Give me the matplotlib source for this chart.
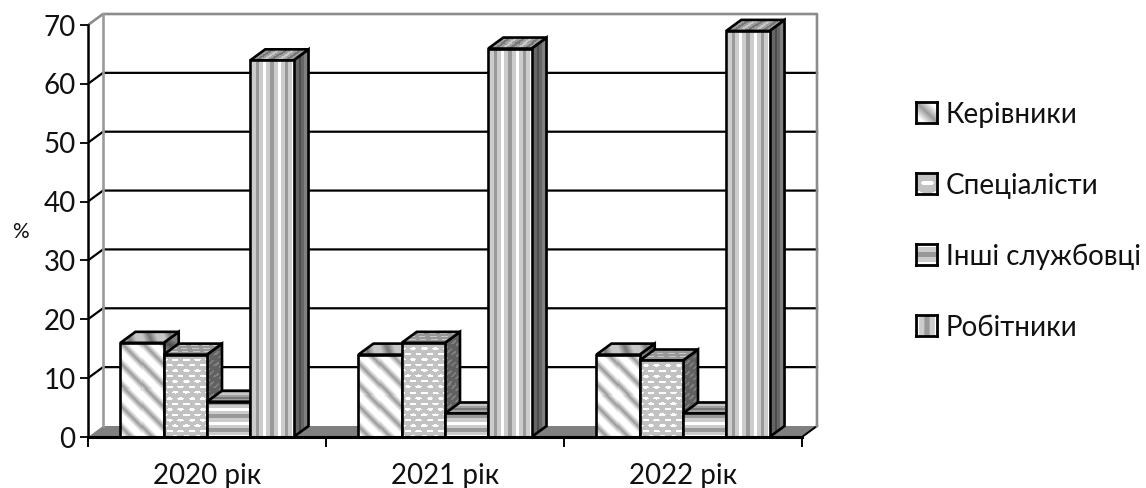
import matplotlib
matplotlib.use('Agg')
import matplotlib.pyplot as plt
from matplotlib.patches import Polygon
import numpy as np

years = ['2020 рік', '2021 рік', '2022 рік']
names = ['Керівники', 'Спеціалісти', 'Інші службовці', 'Робітники']
kerivnyky = [16, 14, 14]
spetsialisty = [14, 16, 13]
inshi = [6, 4, 4]
robitnyky = [64, 66, 69]
yticks = [0, 10, 20, 30, 40, 50, 60, 70]

plt.rcParams['font.family'] = ['Lato', 'Open Sans', 'DejaVu Sans']

# scale of the plot box in pixels per data unit
PX_X = 238.0
PX_Y = 412 / 70
DX = 15 / PX_X
DY = 11 / PX_Y
BAR_W = 1 / 5.5
LW = 1.9


def stripe(phase, low, share, steps=0):
    t = np.abs(phase % 1 - 0.5) * 2
    k = np.clip(t / share, 0, 1)
    if steps:
        k = np.round(k * steps) / steps
    return low + (1 - low) * k


def diag(u, v):
    return stripe((u + v) / 21.0, 0.6, 0.65)


def dots(u, v):
    i = np.round(v / 5.5)
    off = 5.5 * (i % 2)
    uc = np.round((u - off) / 11.0) * 11.0 + off
    d = ((u - uc) / 3.3) ** 2 + ((v - i * 5.5) / 1.3) ** 2
    return np.where(d < 1, 1.0, 0.76)


def horiz(u, v):
    return stripe(v / 13.5, 0.6, 1.0, steps=2)


def vert(u, v):
    return stripe(u / 14.5, 0.6, 1.0, steps=2)


patterns = [diag, dots, horiz, vert]
swatch_scale = [0.5, 0.5, 0.64, 0.69]


def face(ax, pattern, origin, vec_u, vec_v, shade, z):
    # textured parallelogram, vectors are in data units
    corners = np.array([origin, origin + vec_u, origin + vec_u + vec_v, origin + vec_v])
    x0, y0 = corners.min(axis=0)
    x1, y1 = corners.max(axis=0)
    nx = max(int(round((x1 - x0) * PX_X)), 2)
    ny = max(int(round((y1 - y0) * PX_Y)), 2)
    gx, gy = np.meshgrid(np.linspace(x0, x1, nx), np.linspace(y0, y1, ny))
    px = (gx - origin[0]) * PX_X
    py = (gy - origin[1]) * PX_Y
    a = np.array([[vec_u[0] * PX_X, vec_v[0] * PX_X], [vec_u[1] * PX_Y, vec_v[1] * PX_Y]])
    inv = np.linalg.inv(a)
    s = inv[0, 0] * px + inv[0, 1] * py
    t = inv[1, 0] * px + inv[1, 1] * py
    u = s * np.hypot(vec_u[0] * PX_X, vec_u[1] * PX_Y)
    v = t * np.hypot(vec_v[0] * PX_X, vec_v[1] * PX_Y)
    img = pattern(u, v) * shade
    im = ax.imshow(img, cmap='gray', vmin=0, vmax=1, origin='lower', aspect='auto',
                   extent=(x0, x1, y0, y1), interpolation='nearest', zorder=z)
    outline = Polygon(corners, closed=True, facecolor='none', edgecolor='black',
                      linewidth=LW, joinstyle='miter', zorder=z + 0.1)
    ax.add_patch(outline)
    im.set_clip_path(outline)


def bar3d(ax, x, value, pattern, z):
    depth = np.array([DX, DY])
    front = np.array([x, 0.0])
    wide = np.array([BAR_W, 0.0])
    high = np.array([0.0, value])
    face(ax, pattern, front + wide, depth, high, 0.5, z)
    face(ax, pattern, front + high, wide, depth, 0.78, z + 0.2)
    face(ax, pattern, front, wide, high, 1.0, z + 0.4)


fig = plt.figure(figsize=(11.46, 4.88), dpi=100)
top_px = 6
ax = fig.add_axes([88 / 1146, (488 - 437) / 488, 740 / 1146, (437 - top_px) / 488])
ax.patch.set_alpha(0)

# floor and walls
ax.add_patch(Polygon([(0, 0), (3, 0), (3 + DX, DY), (DX, DY)], closed=True,
                     facecolor='#808080', edgecolor='none', zorder=1))
ax.plot([3, 3 + DX], [0, DY], color='black', lw=1.4, zorder=1.1)
for y in yticks[1:-1]:
    ax.plot([0, DX, 3 + DX], [y, y + DY, y + DY], color='black', lw=1.6, zorder=2)
ax.plot([0, DX, 3 + DX, 3 + DX], [70, 70 + DY, 70 + DY, DY], color='#8c8c8c', lw=1.9, zorder=2)
ax.plot([DX, DX], [DY, 70 + DY], color='#9a9a9a', lw=1.9, zorder=2)

z = 3
for j, series in enumerate([kerivnyky, spetsialisty, inshi, robitnyky]):
    for i, value in enumerate(series):
        x = i + (0.75 + j) * BAR_W
        bar3d(ax, x, value, patterns[j], z + j + i * 4)

ax.set_xlim(0, 740 / PX_X)
ax.set_ylim(0, (437 - top_px) / PX_Y)
for side in ['top', 'right']:
    ax.spines[side].set_visible(False)
ax.spines['left'].set_bounds(0, 70)
ax.spines['bottom'].set_bounds(0, 3)
ax.spines['left'].set_linewidth(1.8)
ax.spines['bottom'].set_linewidth(2.2)
ax.spines['left'].set_zorder(30)
ax.spines['bottom'].set_zorder(30)
ax.set_yticks(yticks)
ax.set_xticks([0, 1, 2, 3])
ax.set_xticklabels([])
ax.set_xticks([0.5, 1.5, 2.5], years, minor=True)
ax.tick_params(axis='y', length=6, width=1.4, labelsize=20, pad=3, colors='#111111')
ax.tick_params(axis='x', which='major', length=7, width=1.4)
ax.tick_params(axis='x', which='minor', length=0, labelsize=20, pad=18.5, labelcolor='#111111')

fig.text(20 / 1146, 1 - 232 / 488, '%', fontsize=15, ha='center', va='center', color='#111111')

# legend
baselines = [123, 194, 265, 336]
for name, base, pattern, scale in zip(names, baselines, patterns, swatch_scale):
    sw = fig.add_axes([916 / 1146, (488 - base) / 488, 21 / 1146, 21 / 488])
    g = np.linspace(0, 21, 21)
    su, sv = np.meshgrid(g, g)
    sw.imshow(pattern(su * scale, sv * scale), cmap='gray', vmin=0, vmax=1, origin='lower',
              aspect='auto', interpolation='bilinear')
    sw.set_xticks([])
    sw.set_yticks([])
    for sp in sw.spines.values():
        sp.set_linewidth(2.0)
    fig.text(946 / 1146, (488 - base) / 488, name, fontsize=20, color='#111111',
             ha='left', va='baseline')

fig.savefig('out.png', dpi=100)
